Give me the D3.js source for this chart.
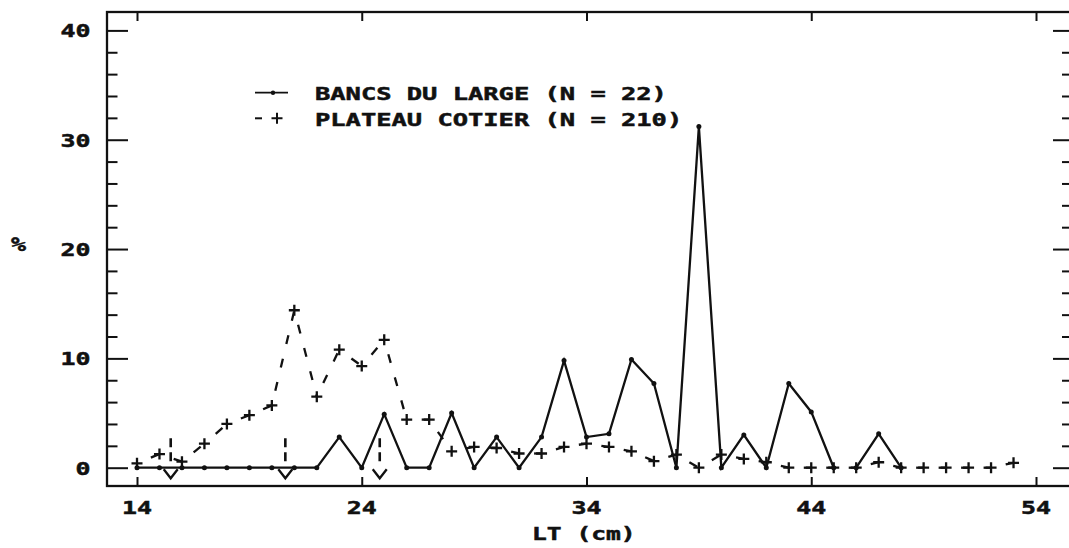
<!DOCTYPE html>
<html>
<head>
<meta charset="utf-8">
<script src="https://cdn.jsdelivr.net/npm/d3@7"></script>
<style>
  html, body { margin: 0; padding: 0; background: #fff; }
  svg { display: block; }
</style>
</head>
<body>
<script>
// Length classes (LT, cm)
const lengthCm = [14, 15, 16, 17, 18, 19, 20, 21, 22, 23, 24, 25, 26, 27, 28, 29, 30, 31, 32, 33,
                  34, 35, 36, 37, 38, 39, 40, 41, 42, 43, 44, 45, 46, 47, 48, 49, 50, 51, 52, 53];

// Bancs du large (N = 22), % per class, 14 to 48 cm
const bancsValues = [0, 0, 0, 0, 0, 0, 0, 0, 0, 2.8, 0, 4.9, 0, 0, 5.0, 0, 2.8, 0, 2.8, 9.8,
                     2.8, 3.1, 9.9, 7.7, 0, 31.2, 0, 3.0, 0, 7.7, 5.1, 0, 0, 3.1, 0];
// the pen was lifted after this class
const bancsBreakAfter = [45];

// Plateau cotier (N = 210), % per class, 14 to 53 cm
const plateauValues = [0.4, 1.25, 0.55, 2.2, 4.0, 4.8, 5.7, 14.4, 6.5, 10.8, 9.3, 11.7, 4.4, 4.4, 1.5, 1.9, 1.8, 1.3, 1.3, 1.9,
                       2.2, 1.9, 1.5, 0.6, 1.2, 0, 1.2, 0.8, 0.5, 0, 0, 0, 0, 0.5, 0, 0, 0, 0, 0, 0.45];

// Marked lengths (dashed arrows)
const arrowLengths = [15.5, 20.6, 24.8];

const xTickValues = [14, 24, 34, 44, 54];
const xTickLabels = ["14", "24", "34", "44", "54"];
const yTickValues = [0, 10, 20, 30, 40];
const yTickLabels = ["0", "10", "20", "30", "40"];
const yMinorValues = [2, 4, 6, 8, 12, 14, 16, 18, 22, 24, 26, 28, 32, 34, 36, 38];

const legendLabels = ["BANCS DU LARGE (N = 22)", "PLATEAU COTIER (N = 210)"];
const xTitle = "LT (cm)";
const yTitle = "%";

// ---- layout ----
const W = 1069, H = 548;
const frame = { left: 107, right: 1073, top: 12, bottom: 486 };
const ink = "#111";
const pen = 2.3;

const svg = d3.select("body").append("svg").attr("width", W).attr("height", H);

const x = d3.scaleLinear().domain([14, 54]).range([137, 1036]);
const y = d3.scaleLinear().domain([0, 40]).range([467.7, 30.4]);

// stretched monospaced plotter-style lettering
function label(str, px, py, anchor, charW, size = 18) {
  return svg.append("text")
    .attr("x", px).attr("y", py)
    .attr("text-anchor", anchor)
    .attr("font-family", "DejaVu Sans Mono")
    .attr("font-weight", "bold")
    .attr("font-size", size)
    .attr("textLength", str.length * charW)
    .attr("lengthAdjust", "spacingAndGlyphs")
    .attr("fill", ink)
    .attr("stroke", ink).attr("stroke-width", 0.5)
    .text(str);
}

// ---- frame ----
svg.append("rect")
  .attr("x", frame.left).attr("y", frame.top)
  .attr("width", frame.right - frame.left).attr("height", frame.bottom - frame.top)
  .attr("fill", "none").attr("stroke", ink).attr("stroke-width", pen);

function tickAxis(axis, tx, ty) {
  const g = svg.append("g").attr("transform", `translate(${tx},${ty})`).call(axis);
  g.select(".domain").remove();
  g.selectAll("text").remove();
  g.selectAll("line").attr("stroke", ink).attr("stroke-width", 2);
  return g;
}

// inward ticks on all four sides
tickAxis(d3.axisRight(y).tickValues(yTickValues).tickSize(21), frame.left, 0);
tickAxis(d3.axisRight(y).tickValues(yMinorValues).tickSize(10.5), frame.left, 0);
tickAxis(d3.axisLeft(y).tickValues(yTickValues).tickSize(20), frame.right, 0);
tickAxis(d3.axisLeft(y).tickValues(yMinorValues).tickSize(11), frame.right, 0);
tickAxis(d3.axisTop(x).tickValues(xTickValues).tickSize(9), 0, frame.bottom);
tickAxis(d3.axisBottom(x).tickValues(xTickValues).tickSize(9), 0, frame.top);

// tick labels
xTickValues.forEach((v, i) => label(xTickLabels[i], x(v), 514, "middle", 15));
yTickValues.forEach((v, i) => label(yTickLabels[i], 90.5, y(v) + 7, "end", 15));

// axis titles
label(xTitle, 532, 540, "start", 14.8);
label(yTitle, 11, 251, "start", 15, 20);

// ---- Plateau cotier: dashed line, plus markers ----
const plateau = lengthCm.map((l, i) => ({ l, v: plateauValues[i] }));
const plateauSegs = d3.pairs(plateau);
svg.append("g").selectAll("line").data(plateauSegs).join("line")
  .attr("x1", d => x(d[0].l)).attr("y1", d => y(d[0].v))
  .attr("x2", d => x(d[1].l)).attr("y2", d => y(d[1].v))
  .attr("stroke", ink).attr("stroke-width", pen)
  .attr("stroke-dasharray", "9 15").attr("stroke-dashoffset", 9);

const plusPath = "M-5.5,0H5.5M0,-5.5V5.5";
svg.append("g").selectAll("path").data(plateau).join("path")
  .attr("d", plusPath)
  .attr("transform", d => `translate(${x(d.l)},${y(d.v)})`)
  .attr("stroke", ink).attr("stroke-width", pen).attr("fill", "none");

// ---- Bancs du large: solid line, dot markers ----
const bancs = bancsValues.map((v, i) => ({ l: lengthCm[i], v }));
const runs = [];
let run = [];
bancs.forEach(d => {
  run.push(d);
  if (bancsBreakAfter.includes(d.l)) { runs.push(run); run = []; }
});
if (run.length) runs.push(run);

const line = d3.line().x(d => x(d.l)).y(d => y(d.v));
svg.append("g").selectAll("path").data(runs).join("path")
  .attr("d", line)
  .attr("fill", "none").attr("stroke", ink).attr("stroke-width", pen)
  .attr("stroke-linejoin", "miter");

svg.append("g").selectAll("circle").data(bancs).join("circle")
  .attr("cx", d => x(d.l)).attr("cy", d => y(d.v)).attr("r", 2.5)
  .attr("fill", ink);

// ---- dashed arrows pointing down to the axis ----
const arrows = svg.append("g");
arrowLengths.forEach(l => {
  const ax = x(l);
  arrows.append("line")
    .attr("x1", ax).attr("x2", ax)
    .attr("y1", y(2.7)).attr("y2", y(0) - 4)
    .attr("stroke", ink).attr("stroke-width", 2.6)
    .attr("stroke-dasharray", "9 5");
  arrows.append("path")
    .attr("d", `M${ax - 7},${y(0) + 1.6}L${ax},${y(0) + 10.6}L${ax + 7},${y(0) + 1.6}`)
    .attr("fill", "none").attr("stroke", ink).attr("stroke-width", pen);
});

// ---- legend ----
const lg = svg.append("g");
lg.append("line").attr("x1", 255).attr("x2", 288).attr("y1", 92.7).attr("y2", 92.7)
  .attr("stroke", ink).attr("stroke-width", 1.8);
lg.append("circle").attr("cx", 273).attr("cy", 92.7).attr("r", 2.2).attr("fill", ink);
lg.append("line").attr("x1", 255).attr("x2", 262).attr("y1", 118.3).attr("y2", 118.3)
  .attr("stroke", ink).attr("stroke-width", 2);
lg.append("path").attr("d", plusPath).attr("transform", "translate(277,118.3)")
  .attr("stroke", ink).attr("stroke-width", 2).attr("fill", "none");
label(legendLabels[0], 315, 100, "start", 15.3);
label(legendLabels[1], 315, 126, "start", 15.3);
</script>
</body>
</html>
